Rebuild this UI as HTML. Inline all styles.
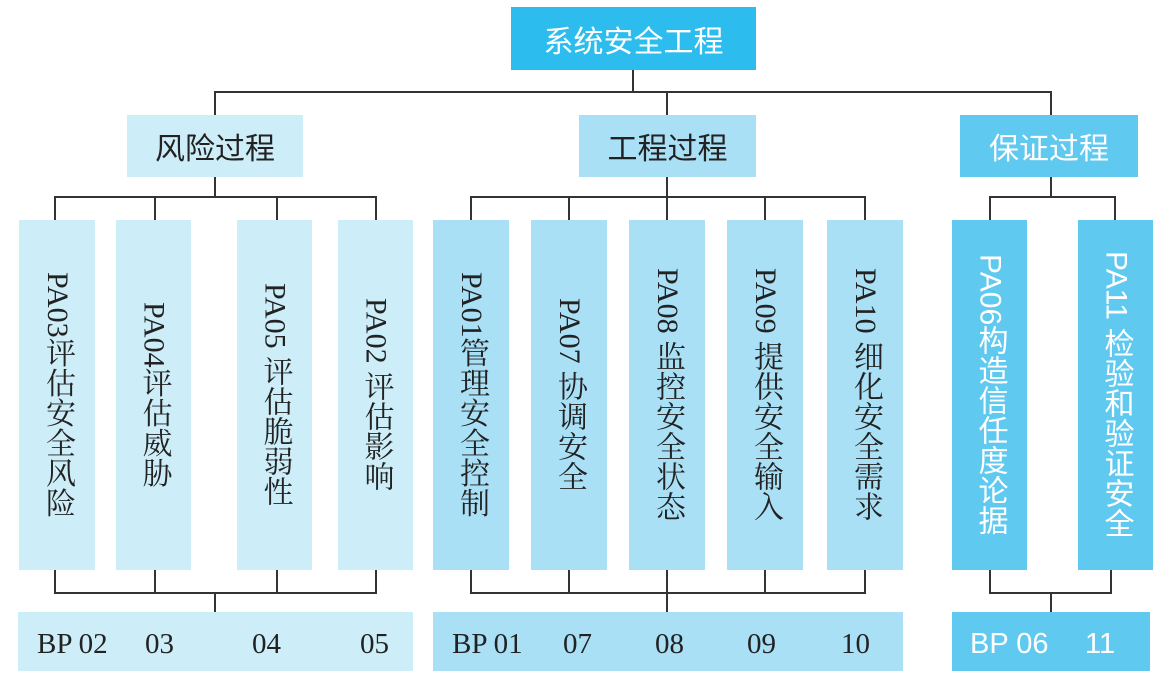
<!DOCTYPE html>
<html><head><meta charset="utf-8"><style>
body{margin:0;width:1170px;height:677px;background:#fff;position:relative;overflow:hidden;font-family:"Liberation Serif","Noto Serif CJK SC",serif}
.b{position:absolute;display:flex;align-items:center;justify-content:center;box-sizing:border-box}
.v{writing-mode:vertical-rl;font-size:30px;color:#222;white-space:nowrap}
.h{font-size:30px;font-family:"Liberation Sans","Noto Sans CJK SC",sans-serif}
.l{position:absolute;background:#333}
.r{background:#cdeef9}.e{background:#a9e0f6}.a{background:#60c9f0}
.s{font-family:"Liberation Sans","Noto Sans CJK SC",sans-serif;color:#fff}
.bp{position:absolute;font-size:29px;color:#222;top:628px}
</style></head><body>
<div class="b h" style="left:511px;top:7px;width:245px;height:63px;background:#2dbcee;color:#fff">系统安全工程</div>
<div class="l" style="left:632px;top:70px;width:2px;height:22px"></div>
<div class="l" style="left:214px;top:91px;width:838px;height:2px"></div>
<div class="l" style="left:214px;top:91px;width:2px;height:24px"></div>
<div class="l" style="left:666px;top:91px;width:2px;height:24px"></div>
<div class="l" style="left:1050px;top:91px;width:2px;height:24px"></div>
<div class="b h r" style="left:127px;top:115px;width:176px;height:62px;color:#222">风险过程</div>
<div class="b h e" style="left:579px;top:115px;width:177px;height:62px;color:#222">工程过程</div>
<div class="b h a" style="left:960px;top:115px;width:178px;height:62px;color:#fff">保证过程</div>
<div class="l" style="left:214px;top:177px;width:2px;height:20px"></div>
<div class="l" style="left:54px;top:196px;width:323px;height:2px"></div>
<div class="l" style="left:54px;top:196px;width:2px;height:24px"></div>
<div class="l" style="left:154px;top:196px;width:2px;height:24px"></div>
<div class="l" style="left:276px;top:196px;width:2px;height:24px"></div>
<div class="l" style="left:375px;top:196px;width:2px;height:24px"></div>
<div class="l" style="left:54px;top:570px;width:2px;height:23px"></div>
<div class="l" style="left:154px;top:570px;width:2px;height:23px"></div>
<div class="l" style="left:276px;top:570px;width:2px;height:23px"></div>
<div class="l" style="left:375px;top:570px;width:2px;height:23px"></div>
<div class="l" style="left:54px;top:592px;width:323px;height:2px"></div>
<div class="l" style="left:214px;top:592px;width:2px;height:20px"></div>
<div class="l" style="left:666px;top:177px;width:2px;height:20px"></div>
<div class="l" style="left:470px;top:196px;width:396px;height:2px"></div>
<div class="l" style="left:470px;top:196px;width:2px;height:24px"></div>
<div class="l" style="left:568px;top:196px;width:2px;height:24px"></div>
<div class="l" style="left:666px;top:196px;width:2px;height:24px"></div>
<div class="l" style="left:764px;top:196px;width:2px;height:24px"></div>
<div class="l" style="left:864px;top:196px;width:2px;height:24px"></div>
<div class="l" style="left:470px;top:570px;width:2px;height:23px"></div>
<div class="l" style="left:568px;top:570px;width:2px;height:23px"></div>
<div class="l" style="left:666px;top:570px;width:2px;height:42px"></div>
<div class="l" style="left:764px;top:570px;width:2px;height:23px"></div>
<div class="l" style="left:864px;top:570px;width:2px;height:23px"></div>
<div class="l" style="left:470px;top:592px;width:396px;height:2px"></div>
<div class="l" style="left:1050px;top:177px;width:2px;height:20px"></div>
<div class="l" style="left:989px;top:196px;width:127px;height:2px"></div>
<div class="l" style="left:989px;top:196px;width:2px;height:24px"></div>
<div class="l" style="left:1114px;top:196px;width:2px;height:24px"></div>
<div class="l" style="left:989px;top:570px;width:2px;height:23px"></div>
<div class="l" style="left:1110px;top:570px;width:2px;height:23px"></div>
<div class="l" style="left:989px;top:592px;width:123px;height:2px"></div>
<div class="l" style="left:1050px;top:592px;width:2px;height:20px"></div>
<div class="b r" style="left:19px;top:220px;width:76px;height:350px"><span class="v">PA03评估安全风险</span></div>
<div class="b r" style="left:116px;top:220px;width:75px;height:350px"><span class="v">PA04评估威胁</span></div>
<div class="b r" style="left:237px;top:220px;width:75px;height:350px"><span class="v">PA05 评估脆弱性</span></div>
<div class="b r" style="left:338px;top:220px;width:75px;height:350px"><span class="v">PA02 评估影响</span></div>
<div class="b e" style="left:433px;top:220px;width:76px;height:350px"><span class="v">PA01管理安全控制</span></div>
<div class="b e" style="left:531px;top:220px;width:76px;height:350px"><span class="v">PA07 协调安全</span></div>
<div class="b e" style="left:629px;top:220px;width:76px;height:350px"><span class="v">PA08 监控安全状态</span></div>
<div class="b e" style="left:727px;top:220px;width:76px;height:350px"><span class="v">PA09 提供安全输入</span></div>
<div class="b e" style="left:827px;top:220px;width:76px;height:350px"><span class="v">PA10 细化安全需求</span></div>
<div class="b a" style="left:952px;top:220px;width:75px;height:350px"><span class="v s">PA06构造信任度论据</span></div>
<div class="b a" style="left:1078px;top:220px;width:75px;height:350px"><span class="v s">PA11 检验和验证安全</span></div>
<div class="b r" style="left:18px;top:612px;width:395px;height:59px"></div>
<div class="b e" style="left:433px;top:612px;width:470px;height:59px"></div>
<div class="b a" style="left:952px;top:612px;width:198px;height:59px"></div>
<span class="bp" style="left:37px">BP 02</span>
<span class="bp" style="left:145px">03</span>
<span class="bp" style="left:252px">04</span>
<span class="bp" style="left:360px">05</span>
<span class="bp" style="left:452px">BP 01</span>
<span class="bp" style="left:563px">07</span>
<span class="bp" style="left:655px">08</span>
<span class="bp" style="left:747px">09</span>
<span class="bp" style="left:841px">10</span>
<span class="bp" style="left:970px;color:#fff;font-family:'Liberation Sans',sans-serif">BP 06</span>
<span class="bp" style="left:1085px;color:#fff;font-family:'Liberation Sans',sans-serif">11</span>
</body></html>
